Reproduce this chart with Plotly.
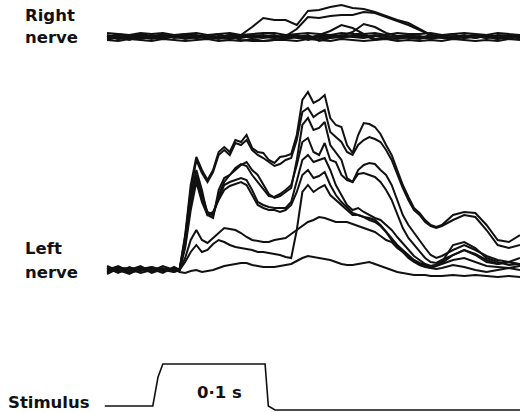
import plotly.graph_objects as go

# ---- time axes (ms, stimulus onset = 0) ----
time_right = [-45, -35, -25, -15, -5, 5, 15, 25, 35, 45, 55, 65, 75, 85, 95, 105, 115, 125, 135,
              145, 155, 165, 175, 185, 195, 205, 215, 225, 235, 245, 255, 265, 275, 285, 295, 305, 315, 325]
time_left = [-45, -35, -25, -15, -5, 5, 15,
             20, 25, 30, 35, 40, 45, 50, 55, 60, 65, 70, 75, 80, 85, 90, 95, 100, 105, 110, 115,
             120, 125, 130, 135, 140, 145, 150, 155, 160, 165, 170, 175, 180, 185, 190, 195, 200,
             205, 210, 215, 220, 225, 230, 235, 240, 245, 250, 255,
             265, 275, 285, 295, 305, 315, 325]

# ---- Right nerve sweeps (amplitude, a.u.) ----
right_1 = [1, -2, 2, 0, -2, 1, 2, 0, -1, 1, 0, 2, 2, 10, 19, 17, 17, 12, 26, 27, 30, 32, 29, 28, 25, 21, 17, 14, 8, 2, 0, -1, 1, 2, 0, -2, 1, 0]
right_2 = [-2, 1, 0, 3, 1, -1, 0, 2, 2, -1, 1, 0, -1, 1, 2, 0, 1, 8, 20, 19, 21, 22, 22, 25, 24, 20, 16, 12, 7, 2, -1, 0, 2, -1, 1, 0, -1, 1]
right_3 = [2, 0, -3, 1, 0, 3, -1, 0, 1, 2, -1, 1, -3, -4, -4, -3, -1, 0, 2, -4, -1, 0, 1, 2, -3, 0, 1, 2, 0, -1, 1, 3, -1, 0, 1, -2, 0, 2]
right_4 = [0, 3, 1, -1, 2, 0, 1, -2, 0, 1, 3, -1, 1, 0, -1, 1, 0, 1, -1, 1, 2, 1, 5, 13, 10, 4, 1, 0, -1, 2, 1, -1, 0, 2, 1, 0, -2, 1]
right_5 = [-3, 0, 1, 2, -1, -2, 1, 3, -1, 0, -2, 1, 2, 1, 0, -1, 2, -1, -1, 2, 6, 12, 9, 3, -2, -2, -1, 1, 0, -2, 0, 1, -1, 1, -1, 2, 1, -1]
right_6 = [1, -2, -1, 0, 1, 2, 0, -1, 1, -2, 0, 2, 1, -1, 1, 2, -2, 0, 1, -1, -1, 2, 0, -1, 1, -1, -2, 0, 1, -1, 2, 0, 1, -1, 2, 0, -1, 0]
right_7 = [0, 1, -1, -2, 0, -1, 2, 1, 0, 1, -1, -2, 0, 2, 1, -1, 0, 2, -3, 0, 1, -1, 1, 0, 2, 1, 0, -1, -2, 1, -1, -2, 0, 1, -1, 1, 2, -2]
right_8 = [-3, -4, -2, -3, -4, -2, -3, -4, -3, -2, -4, -3, -4, -2, -4, -3, -3, -4, -2, -3, -4, -2, -3, -4, -3, -2, -4, -3, -4, -3, -4, -2, -3, -4, -3, -4, -2, -3]
right_9 = [4, 3, 2, 4, 3, 4, 2, 3, 4, 2, 3, 4, 2, 3, 4, 4, 2, 3, 4, 3, 2, 4, 3, 3, 4, 2, 4, 3, 3, 4, 2, 3, 4, 3, 2, 4, 3, 2]

# ---- Left nerve sweeps (amplitude, a.u.) ----
left_1 = [2, -3, 3, -1, 2, 0, 1,
          1, 35, 85, 113, 100, 90, 100, 118, 123, 118, 130, 128, 135, 122, 118, 117, 110, 107, 113, 114,
          116, 135, 170, 178, 167, 170, 175, 152, 145, 143, 125, 117, 135, 147, 146, 143, 136,
          125, 115, 100, 85, 73, 62, 57, 50, 45, 43, 45,
          55, 58, 57, 45, 30, 28, 35]
left_2 = [-1, 3, 0, 4, -2, 1, -1,
          0, 33, 80, 110, 97, 88, 98, 115, 120, 115, 127, 125, 130, 120, 115, 112, 108, 104, 106, 110,
          112, 130, 158, 162, 153, 157, 160, 138, 133, 128, 118, 115, 125, 130, 133, 131, 128,
          120, 110, 95, 82, 70, 60, 55, 48, 44, 42, 44,
          50, 55, 53, 40, 25, 22, 25]
left_3 = [0, 4, -2, 1, 3, -1, 2,
          0, 30, 75, 100, 80, 55, 52, 80, 92, 95, 100, 105, 108, 100, 95, 85, 76, 72, 74, 78,
          82, 110, 145, 152, 140, 142, 148, 125, 118, 110, 92, 88, 100, 105, 107, 106, 100,
          95, 85, 70, 55, 45, 37, 30, 22, 15, 12, 14,
          20, 25, 20, 14, 10, 8, 12]
left_4 = [4, -1, 1, -3, 0, 2, -2,
          0, 28, 70, 95, 75, 58, 55, 75, 88, 95, 102, 106, 104, 95, 88, 80, 74, 73, 76, 80,
          85, 105, 128, 132, 118, 115, 127, 110, 108, 95, 90, 88, 96, 97, 95, 93, 88,
          80, 70, 55, 42, 32, 25, 18, 12, 8, 7, 10,
          15, 20, 16, 10, 6, 8, 5]
left_5 = [-3, 1, 2, 0, -1, 4, 0,
          0, 25, 65, 92, 70, 56, 55, 72, 85, 88, 90, 92, 90, 80, 68, 65, 63, 62, 62, 62,
          68, 90, 110, 115, 108, 110, 112, 100, 85, 75, 65, 60, 62, 58, 55, 52, 50,
          45, 40, 33, 27, 20, 14, 10, 6, 4, 5, 8,
          25, 28, 22, 12, 8, 5, 6]
left_6 = [1, 0, -4, 2, 1, -3, 3,
          0, 22, 60, 88, 68, 55, 58, 70, 80, 84, 86, 88, 85, 75, 65, 62, 60, 60, 58, 60,
          65, 78, 95, 100, 92, 94, 98, 85, 75, 68, 62, 57, 55, 53, 50, 48, 44,
          38, 30, 24, 18, 12, 8, 5, 3, 2, 4, 6,
          10, 12, 8, 4, 3, 2, 4]
left_7 = [-4, 2, 1, -1, 3, 0, -2,
          0, 12, 30, 40, 30, 27, 32, 38, 42, 41, 40, 37, 33, 30, 29, 28, 28, 30, 31, 32,
          36, 40, 44, 48, 50, 53, 52, 50, 48, 48, 48, 46, 44, 42, 40, 38, 34,
          30, 28, 22, 18, 13, 9, 6, 4, 2, 1, 2,
          5, 3, 0, -2, 0, 2, 0]
left_8 = [2, -2, 0, 3, -3, 1, 0,
          0, 8, 18, 25, 18, 20, 26, 30, 28, 25, 23, 22, 21, 20, 18, 18, 17, 16, 15, 13,
          12, 40, 78, 85, 78, 82, 85, 75, 70, 65, 60, 55, 55, 53, 52, 50, 45,
          38, 32, 25, 20, 15, 10, 7, 5, 4, 5, 7,
          15, 20, 15, 8, 6, 8, 6]
left_9 = [-2, 3, -3, 0, 2, -1, 1,
          -2, -3, -1, 0, -2, -1, 0, 2, 4, 5, 6, 7, 7, 5, 4, 3, 3, 3, 4, 5,
          6, 9, 12, 14, 13, 12, 11, 10, 8, 6, 5, 5, 6, 7, 8, 6, 4,
          2, 0, -2, -3, -4, -5, -5, -5, -6, -6, -6,
          -5, -6, -5, -6, -7, -6, -7]

# ---- Stimulus marker ----
stim_t = [-47, -4, 0.7, 5, 96.6, 99.5, 105.5, 325]
stim_v = [0, 0, 29, 42, 42, 0, -4, -4]

right_sweeps = [right_1, right_2, right_3, right_4, right_5, right_6, right_7, right_8, right_9]
left_sweeps = [left_1, left_2, left_3, left_4, left_5, left_6, left_7, left_8, left_9]

RIGHT_BASE = 375
LEFT_BASE = 142
STIM_BASE = 6

fig = go.Figure()
line = dict(color="#111111", width=2)
for s in right_sweeps:
    fig.add_trace(go.Scatter(x=time_right, y=[RIGHT_BASE + v for v in s], mode="lines",
                             line=line, showlegend=False))
for s in left_sweeps:
    fig.add_trace(go.Scatter(x=time_left, y=[LEFT_BASE + v for v in s], mode="lines",
                             line=line, showlegend=False))
fig.add_trace(go.Scatter(x=stim_t, y=[STIM_BASE + v for v in stim_v], mode="lines",
                         line=dict(color="#111111", width=1.6), showlegend=False))

font = dict(family="DejaVu Sans", size=16.5, color="#111111")
labels = [("<b>Right</b>", 23, 16), ("<b>nerve</b>", 23, 38),
          ("<b>Left</b>", 23, 249), ("<b>nerve</b>", 23, 272),
          ("<b>Stimulus</b>", 6, 402)]
for txt, px, py in labels:
    fig.add_annotation(text=txt, x=px / 520, y=1 - py / 412, xref="paper", yref="paper",
                       xanchor="left", yanchor="middle", showarrow=False, font=font)
fig.add_annotation(text="<b>0·1 s</b>", x=219 / 520, y=1 - 392 / 412, xref="paper", yref="paper",
                   xanchor="center", yanchor="middle", showarrow=False, font=font)

fig.update_layout(width=520, height=412, margin=dict(l=0, r=0, t=0, b=0),
                  paper_bgcolor="white", plot_bgcolor="white",
                  xaxis=dict(range=[-140.9, 325], visible=False, fixedrange=True),
                  yaxis=dict(range=[0, 412], visible=False, fixedrange=True))

fig.write_html("out.html", config={"displayModeBar": False},
               post_script="document.body.style.margin='0';document.body.style.overflow='hidden';")
